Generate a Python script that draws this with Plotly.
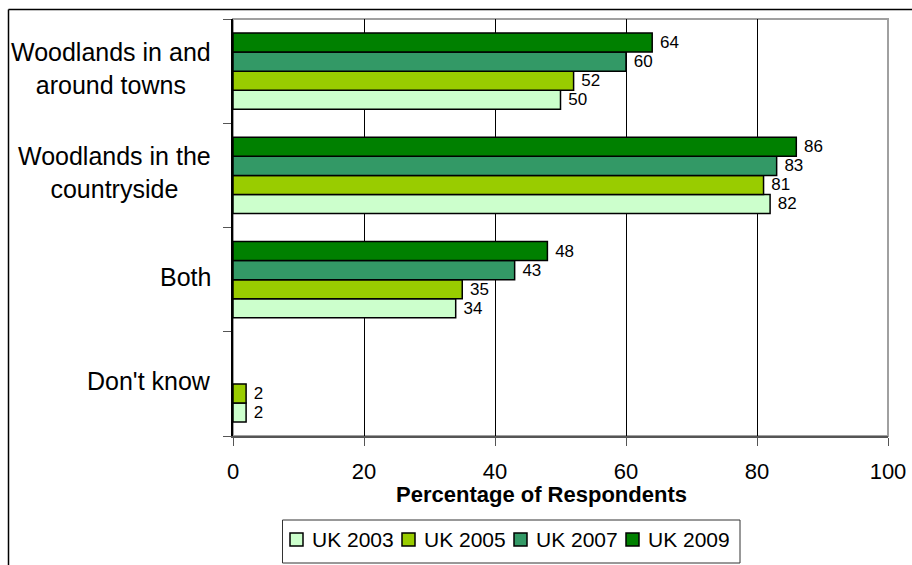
import plotly.graph_objects as go

# Survey categories (top to bottom) and the response share per survey year
categories = [
    "Woodlands in and<br>around towns",
    "Woodlands in the<br>countryside",
    "Both",
    "Don't know",
]
years = ["UK 2003", "UK 2005", "UK 2007", "UK 2009"]
uk2003 = [50, 82, 34, 2]
uk2005 = [52, 81, 35, 2]
uk2007 = [60, 83, 43, None]
uk2009 = [64, 86, 48, None]
x_ticks = [0, 20, 40, 60, 80, 100]

series = [uk2003, uk2005, uk2007, uk2009]
colors = ["#CCFFCC", "#99CC00", "#339966", "#008000"]
FONT = "Liberation Sans, Arial, sans-serif"

# plot-area geometry in pixels, used to place paper-referenced items
L, R, T, B = 233, 888, 19, 436
W, H = R - L, B - T


def px(x):
    return (x - L) / W


def py(y):
    return (B - y) / H


fig = go.Figure()
for name, vals, col in zip(years, series, colors):
    fig.add_trace(go.Bar(
        y=categories,
        x=vals,
        name=name,
        orientation="h",
        marker=dict(color=col, line=dict(color="black", width=1.5)),
        text=[None if v is None else f" {v}" for v in vals],
        textposition="outside",
        constraintext="none",
        cliponaxis=False,
        textfont=dict(family=FONT, size=17, color="black"),
        hoverinfo="x+name",
        showlegend=False,
    ))

annotations = []
for cat in categories:
    annotations.append(dict(
        x=px(213), xref="paper", y=cat, yref="y", yshift=3,
        text=cat, showarrow=False, xanchor="right", yanchor="middle",
        align="center", font=dict(family=FONT, size=25, color="black"),
    ))
annotations.append(dict(
    x=px(541), xref="paper", y=py(494), yref="paper",
    text="<b>Percentage of Respondents</b>", showarrow=False,
    xanchor="center", yanchor="middle",
    font=dict(family=FONT, size=22, color="black"),
))

shapes = [
    # plot-area outline (top and right edges are grey)
    dict(type="rect", xref="paper", yref="paper", x0=0, y0=0, x1=1, y1=1,
         line=dict(color="#A0A0A0", width=2), layer="below"),
    # outer chart frame
    dict(type="line", xref="paper", yref="paper",
         x0=px(8.5), y0=py(9.5), x1=px(915), y1=py(9.5),
         line=dict(color="black", width=1.5)),
    dict(type="line", xref="paper", yref="paper",
         x0=px(8.5), y0=py(9.5), x1=px(8.5), y1=py(570),
         line=dict(color="black", width=1.5)),
    # legend box
    dict(type="rect", xref="paper", yref="paper",
         x0=px(282.5), y0=py(520), x1=px(740), y1=py(563),
         line=dict(color="#333333", width=1), fillcolor="white"),
]

# legend entries: swatch + label per survey year
legend_x0, legend_step, legend_yc = 290, 112, 539.5
for i, (name, col) in enumerate(zip(years, colors)):
    sx = legend_x0 + i * legend_step
    shapes.append(dict(
        type="rect", xref="paper", yref="paper",
        x0=px(sx), y0=py(legend_yc + 6.5), x1=px(sx + 13), y1=py(legend_yc - 6.5),
        line=dict(color="black", width=1.5), fillcolor=col,
    ))
    annotations.append(dict(
        x=px(sx + 20), xref="paper", y=py(legend_yc), yref="paper",
        text=name, showarrow=False, xanchor="left", yanchor="middle",
        font=dict(family=FONT, size=21, color="black"),
    ))

fig.update_layout(
    width=912, height=565,
    margin=dict(l=L, r=912 - R, t=T, b=565 - B, pad=0, autoexpand=False),
    paper_bgcolor="white", plot_bgcolor="white",
    barmode="group", bargap=0.27, bargroupgap=0,
    font=dict(family=FONT, color="black"),
    showlegend=False,
    xaxis=dict(
        range=[0, 100], tickvals=x_ticks, ticktext=[str(t) for t in x_ticks],
        showgrid=True, gridcolor="black", gridwidth=1, zeroline=False,
        showline=True, linecolor="#555555", linewidth=1.5,
        ticks="outside", ticklen=8, tickcolor="#555555", tickwidth=1,
        ticklabelstandoff=7,
        tickfont=dict(family=FONT, size=22, color="black"),
    ),
    yaxis=dict(
        categoryorder="array", categoryarray=categories[::-1],
        range=[-0.5, len(categories) - 0.5],
        showticklabels=False, showgrid=False, zeroline=False,
        showline=True, linecolor="black", linewidth=1.5,
        ticks="outside", tickson="boundaries", ticklen=8,
        tickcolor="#555555", tickwidth=1,
    ),
    annotations=annotations,
    shapes=shapes,
)

fig.write_html("out.html")
